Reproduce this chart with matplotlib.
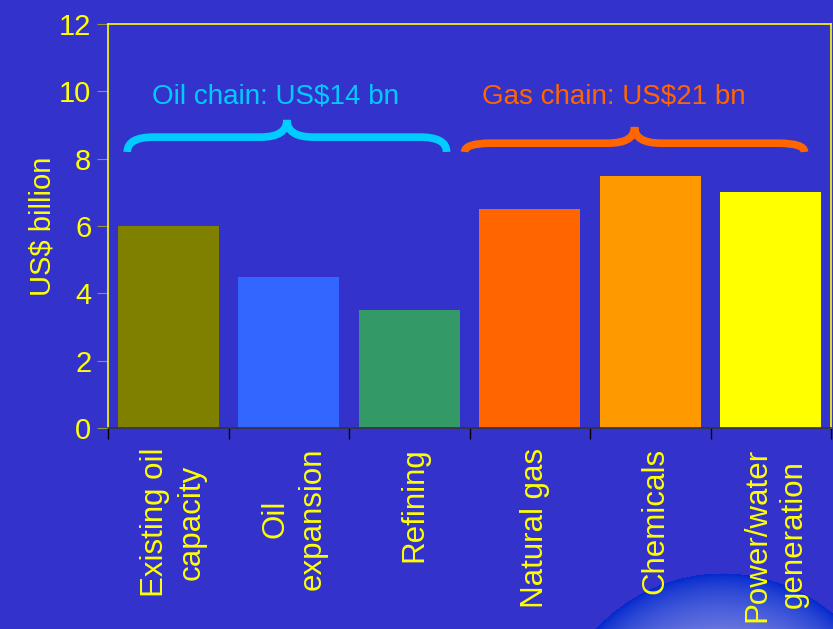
import numpy as np
import matplotlib.pyplot as plt
import matplotlib.transforms as mtransforms
from matplotlib.path import Path
from matplotlib.patches import PathPatch

plt.rcParams['font.family'] = ['Liberation Sans', 'DejaVu Sans']

categories = ['Existing oil\ncapacity', 'Oil\nexpansion', 'Refining',
              'Natural gas', 'Chemicals', 'Power/water\ngeneration']
values = [6.0, 4.5, 3.5, 6.5, 7.5, 7.0]
colors = ['#808000', '#3366FF', '#339966', '#FF6600', '#FF9900', '#FFFF00']
oil_label = 'Oil chain: US$14 bn'
gas_label = 'Gas chain: US$21 bn'

bg = '#3333CC'
yellow = '#FFFF00'

fig = plt.figure(figsize=(8.33, 6.29), dpi=100, facecolor=bg)

# glossy ball decoration in the bottom right corner
deco = fig.add_axes([0, 0, 1, 1], zorder=0)
deco.set_xlim(0, 833)
deco.set_ylim(629, 0)
deco.axis('off')
xx, yy = np.meshgrid(np.arange(833), np.arange(629))
cx, cy, r = 722, 745, 172
d = np.sqrt((xx - cx) ** 2 + (yy - cy) ** 2) / r
img = np.zeros((629, 833, 4))
t = np.clip(1 - d, 0, 1)
base = np.array([0.0, 0.15, 0.8])
light = np.array([0.62, 0.62, 0.92])
w = np.clip(t / 0.6, 0, 1) ** 0.7
for k in range(3):
    img[..., k] = base[k] * (1 - w) + light[k] * w
img[..., 3] = (d <= 1).astype(float)
deco.imshow(img, extent=(0, 833, 629, 0), interpolation='bilinear')

ax = fig.add_axes([108 / 833, 1 - 428 / 629, 723 / 833, 404 / 629], zorder=1)
ax.set_facecolor(bg)

x = np.arange(len(categories)) + 0.5
ax.bar(x, values, width=0.84, color=colors, zorder=2)

ax.set_xlim(0, len(categories))
ax.set_ylim(0, 12)
ax.set_yticks(range(0, 13, 2))
ax.set_xticks(np.arange(len(categories) + 1))
ax.set_xticklabels([])
ax.set_xticks(x, minor=True)
ax.set_xticklabels(categories, minor=True, rotation=90, va='top',
                   ha='center', color=yellow, fontsize=22.5, linespacing=1.3)
ax.tick_params(axis='x', which='minor', length=0, pad=14)
ax.tick_params(axis='x', which='major', direction='out', length=8,
               color='black', width=1)
ax.tick_params(axis='y', direction='out', length=8, color='#999933',
               labelcolor=yellow, labelsize=21, pad=4)

# nudge category labels a little to the right
shift = mtransforms.ScaledTranslation(5 / 100, 0, fig.dpi_scale_trans)
for lbl in ax.get_xticklabels(minor=True):
    lbl.set_transform(lbl.get_transform() + shift)

for side in ['left', 'top', 'right']:
    ax.spines[side].set_color(yellow)
    ax.spines[side].set_linewidth(1.2)
ax.spines['bottom'].set_color('#333333')
ax.spines['bottom'].set_linewidth(1.2)

ax.set_ylabel('US$ billion', color=yellow, fontsize=21, labelpad=2)


def brace(ax, x0, x1, y_end, y_line, y_peak, color):
    xc = (x0 + x1) / 2
    rx = 0.22
    verts = [(x0, y_end), (x0, y_line), (x0 + rx, y_line),
             (xc - rx, y_line),
             (xc, y_line), (xc, y_peak),
             (xc, y_line), (xc + rx, y_line),
             (x1 - rx, y_line),
             (x1, y_line), (x1, y_end)]
    codes = [Path.MOVETO, Path.CURVE3, Path.CURVE3,
             Path.LINETO,
             Path.CURVE3, Path.CURVE3,
             Path.CURVE3, Path.CURVE3,
             Path.LINETO,
             Path.CURVE3, Path.CURVE3]
    ax.add_patch(PathPatch(Path(verts, codes), facecolor='none',
                           edgecolor=color, lw=5.5, capstyle='butt',
                           zorder=3))


brace(ax, 0.16, 2.81, 8.2, 8.64, 9.15, '#00CCFF')
brace(ax, 2.96, 5.78, 8.2, 8.46, 8.94, '#FF6600')

ax.text(1.39, 9.85, oil_label, color='#00CCFF', fontsize=20,
        ha='center', va='center')
ax.text(4.2, 9.85, gas_label, color='#FF6600', fontsize=20,
        ha='center', va='center')

fig.savefig('out.png', dpi=100, facecolor=bg)
